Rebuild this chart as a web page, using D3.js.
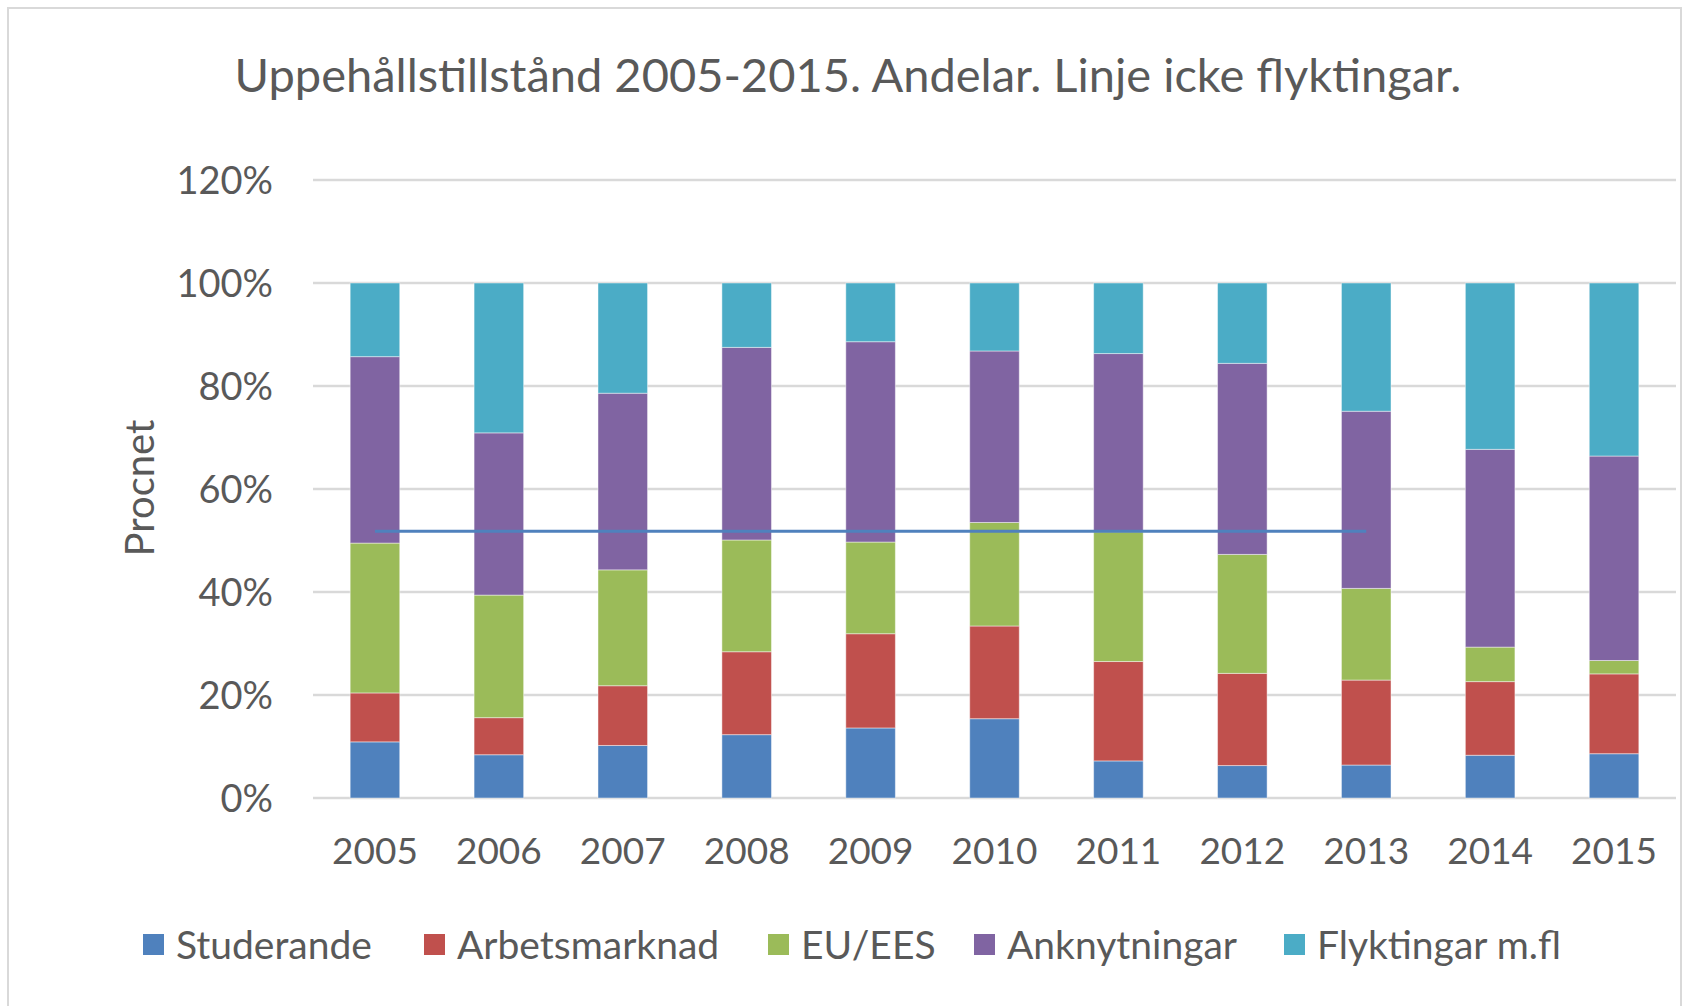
<!DOCTYPE html>
<html><head><meta charset="utf-8">
<script src="https://cdn.jsdelivr.net/npm/d3@7"></script>
<style>
html,body{margin:0;padding:0;background:#fff;}
svg text{font-family:Lato,"Open Sans",sans-serif;fill:#595959;}
</style></head>
<body>
<svg id="chart" width="1684" height="1006"></svg>
<script>
const years = ["2005","2006","2007","2008","2009","2010","2011","2012","2013","2014","2015"];
const seriesNames = ["Studerande","Arbetsmarknad","EU/EES","Anknytningar","Flyktingar m.fl"];
const studerande    = [10.9, 8.4, 10.2, 12.3, 13.6, 15.4, 7.2, 6.3, 6.4, 8.3, 8.6];
const arbetsmarknad = [ 9.5, 7.2, 11.6, 16.1, 18.3, 18.0, 19.3, 17.9, 16.5, 14.3, 15.5];
const euees         = [29.1, 23.8, 22.5, 21.7, 17.8, 20.1, 25.2, 23.1, 17.8, 6.7, 2.6];
const anknytningar  = [36.2, 31.5, 34.3, 37.4, 38.9, 33.3, 34.6, 37.1, 34.4, 38.4, 39.7];
const flyktingar    = [14.3, 29.1, 21.4, 12.5, 11.4, 13.2, 13.7, 15.6, 24.9, 32.3, 33.6];
const lineYears = ["2005","2006","2007","2008","2009","2010","2011","2012","2013"];
const lineValues = [51.8, 51.8, 51.8, 51.8, 51.8, 51.8, 51.8, 51.8, 51.8];
const yTicks = [0, 20, 40, 60, 80, 100, 120];
const colors = ["#4F81BD","#C0504D","#9BBB59","#8064A2","#4BACC6"];
const titleText = "Uppehållstillstånd 2005-2015. Andelar. Linje icke flyktingar.";
const yTitle = "Procnet";

(function(){
const svg = d3.select("#chart");
svg.append("rect").attr("x",8).attr("y",8).attr("width",1673).attr("height",1010)
  .attr("fill","#fff").attr("stroke","#D9D9D9").attr("stroke-width",2);

const pLeft = 313, pRight = 1676, pTop = 180, pBottom = 798;
const x = d3.scaleBand().domain(years).range([pLeft, pRight]).paddingInner(0.6).paddingOuter(0.3);
const y = d3.scaleLinear().domain([0, 120]).range([pBottom, pTop]);

svg.append("g").selectAll("line").data(yTicks).join("line")
  .attr("x1", pLeft).attr("x2", pRight)
  .attr("y1", d => y(d)).attr("y2", d => y(d))
  .attr("stroke", "#D9D9D9").attr("stroke-width", 2.5);

const yAxis = d3.axisLeft(y).tickValues(yTicks).tickFormat(d => d + "%").tickSize(0).tickPadding(0);
const yg = svg.append("g").attr("transform", `translate(${pLeft-40},0)`).call(yAxis);
yg.select(".domain").remove();
yg.selectAll("text").attr("font-size", 38).attr("fill","#595959").attr("dy","0.36em")
  .style("font-family","Lato");

const xAxis = d3.axisBottom(x).tickSize(0).tickPadding(0);
const xg = svg.append("g").attr("transform", `translate(0,${pBottom+40})`).call(xAxis);
xg.select(".domain").remove();
xg.selectAll("text").attr("font-size", 37).attr("fill","#595959").attr("dy","0.71em")
  .style("font-family","Lato");

const rows = years.map((yr, i) => ({
  year: yr,
  "Studerande": studerande[i],
  "Arbetsmarknad": arbetsmarknad[i],
  "EU/EES": euees[i],
  "Anknytningar": anknytningar[i],
  "Flyktingar m.fl": flyktingar[i]
}));
const stack = d3.stack().keys(seriesNames)(rows);

svg.append("g").selectAll("g").data(stack).join("g")
  .attr("fill", (d, i) => colors[i])
  .selectAll("rect").data(d => d).join("rect")
  .attr("x", d => x(d.data.year))
  .attr("width", x.bandwidth())
  .attr("y", d => y(d[1]))
  .attr("height", d => y(d[0]) - y(d[1]))
  .attr("stroke", "#ffffff").attr("stroke-opacity", 0.45).attr("stroke-width", 1);

const line = d3.line().x(d => x(d[0]) + x.bandwidth()/2).y(d => y(d[1]));
svg.append("path").datum(lineYears.map((yr,i) => [yr, lineValues[i]]))
  .attr("d", line).attr("fill","none").attr("stroke","#4F81BD").attr("stroke-width",3);

svg.append("text").attr("x", 848).attr("y", 92).attr("text-anchor","middle")
  .attr("font-size", 47).text(titleText);

svg.append("text").attr("transform", "translate(154,488) rotate(-90)")
  .attr("text-anchor","middle").attr("font-size", 40).text(yTitle);

const legendX = [143, 424, 768, 974, 1284];
const lg = svg.append("g").selectAll("g").data(seriesNames).join("g")
  .attr("transform", (d,i) => `translate(${legendX[i]},934)`);
lg.append("rect").attr("width",21).attr("height",21).attr("fill",(d,i)=>colors[i]);
lg.append("text").attr("x",33).attr("y",25).attr("font-size",39).text(d=>d);
})();
</script>
</body></html>
